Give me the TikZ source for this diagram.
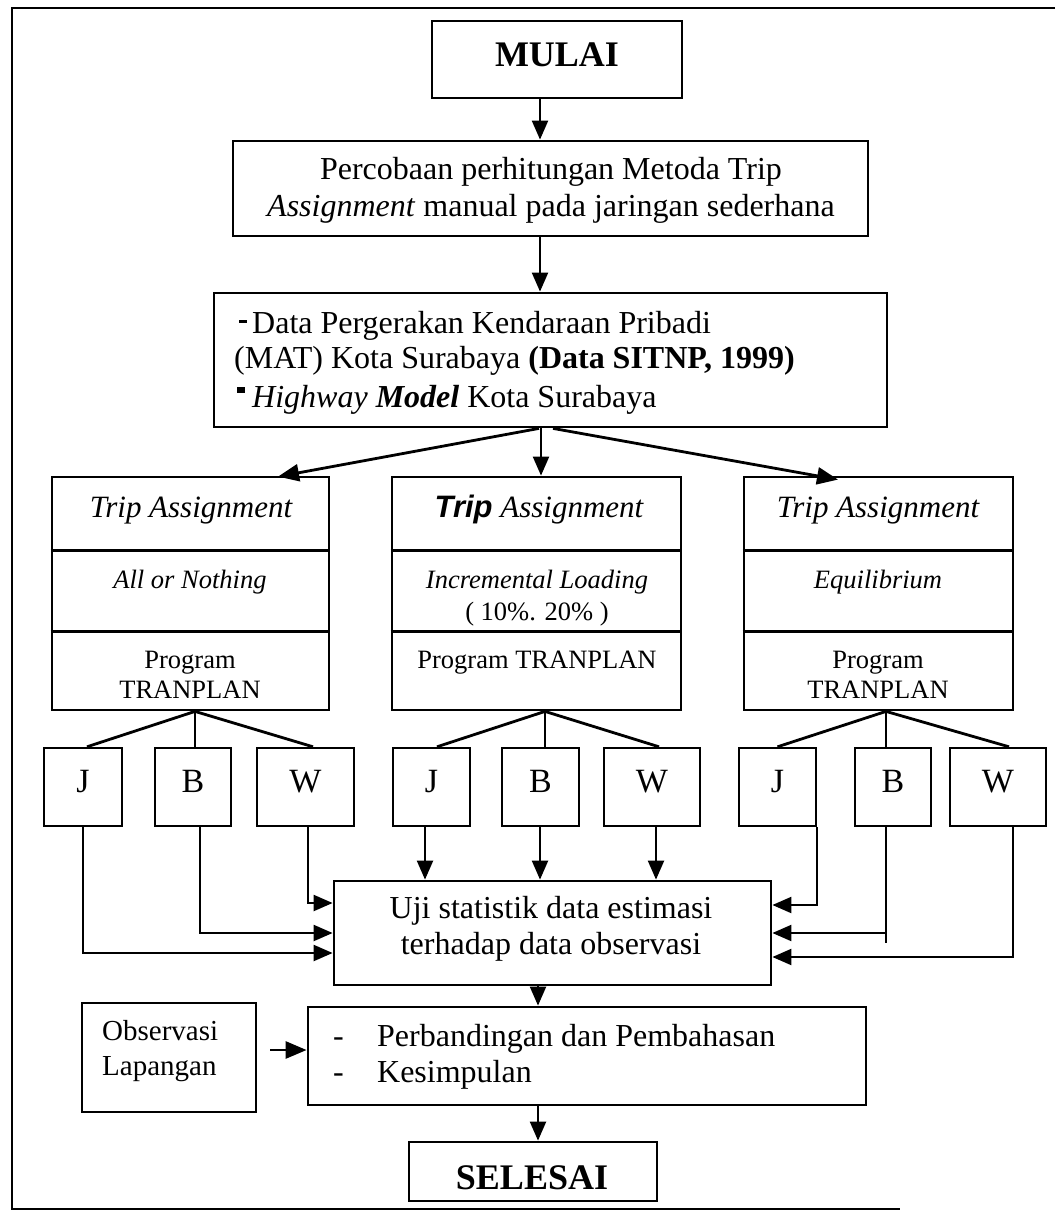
\documentclass[tikz,border=0pt]{standalone}
\usepackage{fontspec}
\setmainfont{Liberation Serif}
\newfontfamily\sansfont{Liberation Sans}
\usetikzlibrary{arrows.meta,calc}

% a box given by its corners: name, x1, y1, x2, y2, style
\newcommand\cornerbox[6]{%
  \node[#6, minimum width={(#4-#2)*1pt}, minimum height={(#5-#3)*1pt}]
    (#1) at ({(#2+#4)/2},{(#3+#5)/2}) {};}

\begin{document}
\begin{tikzpicture}[x=1pt,y=-1pt,
  box/.style={draw, line width=2.8pt, inner sep=0pt},
  smallbox/.style={draw, line width=2.4pt, inner sep=0pt},
  rule/.style={line width=2.8pt},
  conn/.style={line width=2.2pt},
  fan/.style={line width=2.8pt},
  arr/.style={line width=2.2pt, -{Triangle[length=19pt,width=16pt]}},
  bigarr/.style={line width=2.8pt, -{Triangle[length=21pt,width=17pt]}},
  txt/.style={inner sep=0pt, anchor=base},
  ltxt/.style={inner sep=0pt, anchor=base west},
  body/.style={font=\fontsize{32}{37}\selectfont},
  head/.style={font=\fontsize{31}{36}\selectfont\itshape},
  cell/.style={font=\fontsize{26.5}{31}\selectfont},
  celli/.style={font=\fontsize{26.5}{31}\selectfont\itshape},
  letter/.style={font=\fontsize{34}{40}\selectfont},
  title/.style={font=\fontsize{36}{42}\selectfont\bfseries},
  note/.style={font=\fontsize{29}{34}\selectfont}]

\useasboundingbox (0,0) rectangle (1055,1214);
\fill[white] (0,0) rectangle (1055,1214);

% outer frame (open on the right)
\draw[line width=2.8pt] (1055,8) -- (12,8) -- (12,1209) -- (900,1209);

% ---------- top of the flow ----------
\cornerbox{mulai}{432}{21}{682}{98}{box}
\node[txt,title] (tmulai) at (557,67) {MULAI};

\cornerbox{perc}{233}{141}{868}{236}{box}
\node[txt,body] (tperc1) at (551,180) {Percobaan perhitungan Metoda Trip};
\node[txt,body] (tperc2) at (551,217) {\textit{Assignment} manual pada jaringan sederhana};

\cornerbox{data}{214}{293}{887}{427}{box}
\node[ltxt,body] (tdata1) at (239,333) {\rule[10pt]{8pt}{3.5pt}\hspace{5pt}Data Pergerakan Kendaraan Pribadi};
\node[ltxt,body] (tdata2) at (234,368) {(MAT) Kota Surabaya \textbf{(Data SITNP, 1999)}};
\node[ltxt,body] (tdata3) at (237,407) {\rule[14pt]{8pt}{6pt}\hspace{7pt}\textit{Highway} \textbf{\textit{Model}} Kota Surabaya};

\draw[arr] ($(mulai.south)+(-17,0)$) coordinate (a1) -- (a1 |- perc.north);
\draw[arr] ($(perc.south)+(-10.5,0)$) coordinate (a2) -- (a2 |- data.north);

% ---------- three assignment methods ----------
\cornerbox{colL}{52}{477}{329}{710}{box}
\cornerbox{colM}{392}{477}{681}{710}{box}
\cornerbox{colR}{744}{477}{1013}{710}{box}
\foreach \c in {colL,colM,colR}{
  \draw[rule] ($(\c.north west)+(0,75)$) -- ($(\c.north east)+(0,75)$);
  \draw[rule] ($(\c.north west)+(0,156)$) -- ($(\c.north east)+(0,156)$);
}

\draw[bigarr] ($(data.south)+(-11.5,0)$) -- ($(colL.north)+(87.5,1)$);
\draw[arr] ($(data.south)+(-9.5,0)$) coordinate (a3) -- (a3 |- colM.north);
\draw[bigarr] ($(data.south)+(2.5,0)$) -- ($(colR.north)+(-40.5,4)$);

\node[txt,head] (hL) at (191,517) {Trip Assignment};
\node[txt,head] (hM) at (539,517) {{\sansfont\bfseries\itshape Trip} Assignment};
\node[txt,head] (hR) at (878,517) {Trip Assignment};

\node[txt,celli] (mL) at (190,588) {All or Nothing};
\node[txt,celli] (mM1) at (537,588) {Incremental Loading};
\node[txt,cell] (mM2) at (537,620) {( 10\%. 20\% )};
\node[txt,celli] (mR) at (878,588) {Equilibrium};

\node[txt,cell] (pL1) at (190,668) {Program};
\node[txt,cell] (pL2) at (190,698) {TRANPLAN};
\node[txt,cell] (pM) at (537,668) {Program TRANPLAN};
\node[txt,cell] (pR1) at (878,668) {Program};
\node[txt,cell] (pR2) at (878,698) {TRANPLAN};

% ---------- J / B / W outputs ----------
\cornerbox{JL}{44}{748}{122}{826}{smallbox}
\cornerbox{BL}{155}{748}{231}{826}{smallbox}
\cornerbox{WL}{257}{748}{354}{826}{smallbox}
\cornerbox{JM}{393}{748}{470}{826}{smallbox}
\cornerbox{BM}{502}{748}{579}{826}{smallbox}
\cornerbox{WM}{604}{748}{700}{826}{smallbox}
\cornerbox{JR}{739}{748}{816}{826}{smallbox}
\cornerbox{BR}{855}{748}{931}{826}{smallbox}
\cornerbox{WR}{950}{748}{1046}{826}{smallbox}

\node[txt,letter] (lJL) at (83,792) {J};
\node[txt,letter] (lBL) at (193,792) {B};
\node[txt,letter] (lWL) at (305.5,792) {W};
\node[txt,letter] (lJM) at (431.5,792) {J};
\node[txt,letter] (lBM) at (540.5,792) {B};
\node[txt,letter] (lWM) at (652,792) {W};
\node[txt,letter] (lJR) at (777.5,792) {J};
\node[txt,letter] (lBR) at (893,792) {B};
\node[txt,letter] (lWR) at (998,792) {W};

% branches from each method to its outputs
\draw[fan] ($(colL.south)+(4.5,0)$) coordinate (fL) -- ($(JL.north)+(4,0)$);
\draw[conn] (fL) -- ($(BL.north)+(2,0)$);
\draw[fan] (fL) -- ($(WL.north)+(7.5,0)$);
\draw[fan] ($(colM.south)+(8.5,0)$) coordinate (fM) -- ($(JM.north)+(5.5,0)$);
\draw[conn] (fM) -- ($(BM.north)+(4.5,0)$);
\draw[fan] (fM) -- ($(WM.north)+(7,0)$);
\draw[fan] ($(colR.south)+(7.5,0)$) coordinate (fR) -- (JR.north);
\draw[conn] (fR) -- ($(BR.north)+(-7,0)$);
\draw[fan] (fR) -- ($(WR.north)+(11,0)$);

% ---------- statistical test ----------
\cornerbox{uji}{334}{881}{771}{985}{box}
\node[txt,body] (tuji1) at (551,918) {Uji statistik data estimasi};
\node[txt,body] (tuji2) at (551,954) {terhadap data observasi};

\draw[arr] ($(JM.south)+(-6.5,0)$) coordinate (m1) -- (m1 |- uji.north);
\draw[arr] ($(BM.south)+(-0.5,0)$) coordinate (m2) -- (m2 |- uji.north);
\draw[arr] ($(WM.south)+(4,0)$) coordinate (m3) -- (m3 |- uji.north);

\draw[arr] ($(WL.south)+(2.5,0)$) |- ($(uji.west)+(0,-30)$);
\draw[arr] ($(BL.south)+(7,0)$) |- (uji.west);
\draw[arr] (JL.south) |- ($(uji.west)+(0,20)$);

\draw[arr] (JR.south east) |- ($(uji.east)+(0,-28)$);
\draw[conn] ($(BR.south)+(-7,0)$) coordinate (r2) -- ($(r2)+(0,116)$);
\draw[arr] (r2 |- uji.east) -- (uji.east);
\draw[arr] ($(WR.south)+(15,0)$) |- ($(uji.east)+(0,24)$);

% ---------- discussion and end ----------
\cornerbox{banding}{308}{1007}{866}{1105}{box}
\node[ltxt,body] (tb1) at (333,1046) {\makebox[44pt][l]{-}Perbandingan dan Pembahasan};
\node[ltxt,body] (tb2) at (333,1082) {\makebox[44pt][l]{-}Kesimpulan};

\cornerbox{obs}{82}{1003}{256}{1112}{box}
\node[ltxt,note] (to1) at (102,1040) {Observasi};
\node[ltxt,note] (to2) at (102,1075) {Lapangan};

\draw[arr] ($(uji.south)+(-14.5,0)$) coordinate (u1) -- (u1 |- banding.north);
\draw[bigarr] ($(obs.east)+(13,-7.5)$) coordinate (o1) -- (o1 -| banding.west);

\cornerbox{selesai}{409}{1142}{657}{1201}{box}
\node[txt,title] (tselesai) at (532,1189) {SELESAI};
\draw[arr] ($(banding.south)+(-49,0)$) coordinate (b1) -- (b1 |- selesai.north);

\end{tikzpicture}
\end{document}
